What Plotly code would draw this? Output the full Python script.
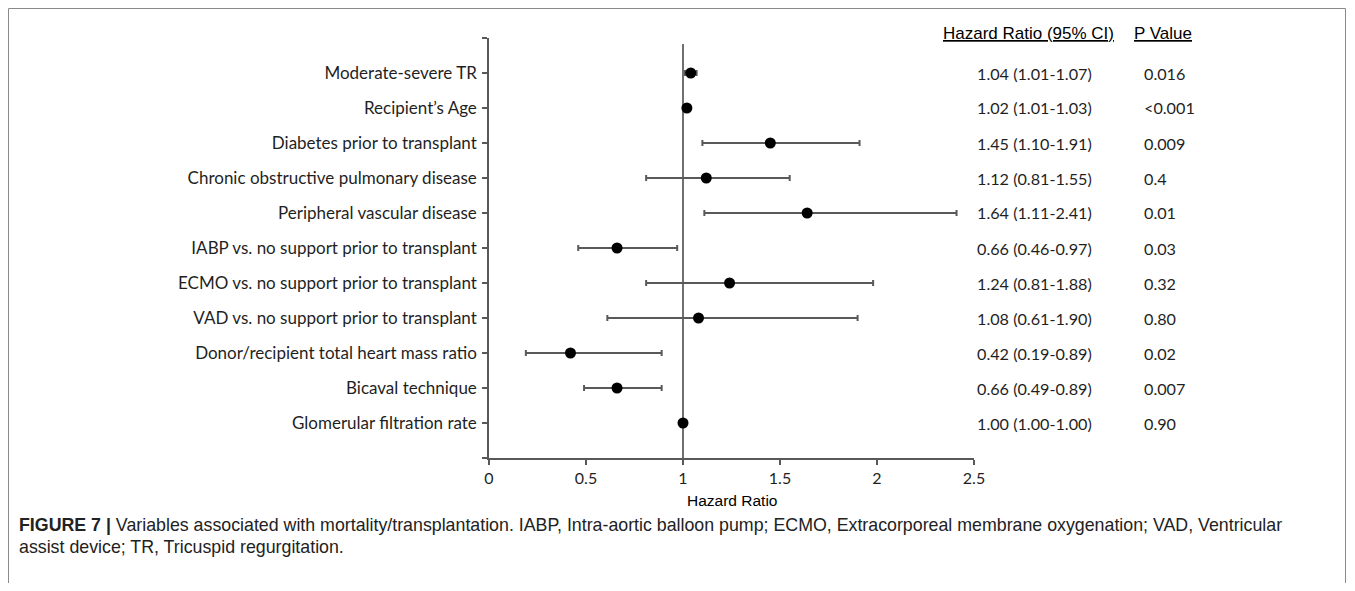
import plotly.graph_objects as go

variables = [
    "Moderate-severe TR",
    "Recipient’s Age",
    "Diabetes prior to transplant",
    "Chronic obstructive pulmonary disease",
    "Peripheral vascular disease",
    "IABP vs. no support prior to transplant",
    "ECMO vs. no support prior to transplant",
    "VAD vs. no support prior to transplant",
    "Donor/recipient total heart mass ratio",
    "Bicaval technique",
    "Glomerular filtration rate",
]
hazard_ratio = [1.04, 1.02, 1.45, 1.12, 1.64, 0.66, 1.24, 1.08, 0.42, 0.66, 1.00]
ci_low = [1.01, 1.01, 1.10, 0.81, 1.11, 0.46, 0.81, 0.61, 0.19, 0.49, 1.00]
ci_high = [1.07, 1.03, 1.91, 1.55, 2.41, 0.97, 1.98, 1.90, 0.89, 0.89, 1.00]
hr_text = [
    "1.04 (1.01-1.07)", "1.02 (1.01-1.03)", "1.45 (1.10-1.91)", "1.12 (0.81-1.55)",
    "1.64 (1.11-2.41)", "0.66 (0.46-0.97)", "1.24 (0.81-1.88)", "1.08 (0.61-1.90)",
    "0.42 (0.19-0.89)", "0.66 (0.49-0.89)", "1.00 (1.00-1.00)",
]
p_text = ["0.016", "<0.001", "0.009", "0.4", "0.01", "0.03", "0.32", "0.80", "0.02", "0.007", "0.90"]
x_ticks = [0, 0.5, 1, 1.5, 2, 2.5]

OFF = 8  # page body margin
W, H = 1355 - 2 * OFF, 591 - 2 * OFF
L, R = 489 - OFF, 974 - OFF
T, B = 38 - OFF, 458 - OFF
n = len(variables)
ypos = [n - i for i in range(n)]  # 11 .. 1


def paper_x(px):
    return (px - OFF - L) / (R - L)


def paper_y(py):
    return (B - (py - OFF)) / (B - T)


axis_col = "#595959"
text_col = "#1f1f1f"
label_font = "Lato, Carlito, Calibri, sans-serif"
arial = "Liberation Sans, Arial, sans-serif"

fig = go.Figure()
fig.add_trace(go.Scatter(
    x=hazard_ratio, y=ypos, mode="markers",
    marker=dict(color="black", size=11),
    error_x=dict(type="data", symmetric=False,
                 array=[h - m for h, m in zip(ci_high, hazard_ratio)],
                 arrayminus=[m - l for m, l in zip(hazard_ratio, ci_low)],
                 color=axis_col, thickness=2, width=3),
    showlegend=False, hoverinfo="skip", cliponaxis=False,
))

# reference line at HR = 1
fig.add_shape(type="line", xref="x", yref="y", x0=1, x1=1, y0=0, y1=11.83,
              line=dict(color="#404040", width=1.5), layer="below")

# outer frame
fig.add_shape(type="rect", xref="paper", yref="paper",
              x0=paper_x(8.5), x1=paper_x(OFF + W - 1.5), y0=paper_y(640), y1=paper_y(8.5),
              line=dict(color="#8a8a8a", width=1), fillcolor="rgba(0,0,0,0)")

ann = []
for y, h, p in zip(ypos, hr_text, p_text):
    yp = (y - 0) / 12.0
    ann.append(dict(x=paper_x(975), y=yp, xref="paper", yref="paper", text=h, showarrow=False,
                    xanchor="left", yanchor="middle",
                    font=dict(family=label_font, size=16.2, color=text_col)))
    ann.append(dict(x=paper_x(1142), y=yp, xref="paper", yref="paper", text=p, showarrow=False,
                    xanchor="left", yanchor="middle",
                    font=dict(family=label_font, size=16.2, color=text_col)))

ann.append(dict(x=paper_x(941), y=paper_y(33), xref="paper", yref="paper",
                text="<u>Hazard Ratio (95% CI)</u>", showarrow=False,
                xanchor="left", yanchor="middle",
                font=dict(family=arial, size=17, color="black")))
ann.append(dict(x=paper_x(1132), y=paper_y(33), xref="paper", yref="paper",
                text="<u>P Value</u>", showarrow=False,
                xanchor="left", yanchor="middle",
                font=dict(family=arial, size=17, color="black")))
ann.append(dict(x=paper_x(732), y=paper_y(500), xref="paper", yref="paper",
                text="Hazard Ratio", showarrow=False, xanchor="center", yanchor="middle",
                font=dict(family=arial, size=15.5, color="black")))
cap_font = dict(family=arial, size=17.8, color="#222")
ann.append(dict(x=paper_x(17), y=paper_y(525), xref="paper", yref="paper",
                text="<b>FIGURE 7 |</b> Variables associated with mortality/transplantation. IABP, Intra-aortic balloon pump; ECMO, Extracorporeal membrane oxygenation; VAD, Ventricular",
                showarrow=False, xanchor="left", yanchor="middle", font=cap_font))
ann.append(dict(x=paper_x(17), y=paper_y(547), xref="paper", yref="paper",
                text="assist device; TR, Tricuspid regurgitation.",
                showarrow=False, xanchor="left", yanchor="middle", font=cap_font))

fig.update_layout(
    width=W, height=H,
    margin=dict(l=L, r=W - R, t=T, b=H - B, autoexpand=False),
    plot_bgcolor="white", paper_bgcolor="white",
    annotations=ann,
    xaxis=dict(range=[0, 2.5], tickvals=x_ticks, ticktext=[f"{v:g}" for v in x_ticks],
               showgrid=False, zeroline=False, showline=True, linecolor=axis_col, linewidth=1.5,
               ticks="outside", ticklen=5, tickcolor=axis_col, tickwidth=1.5,
               tickfont=dict(family=label_font, size=16, color=text_col)),
    yaxis=dict(range=[0, 12], tickvals=list(range(0, 13)),
               ticktext=[""] + variables[::-1] + [""],
               showgrid=False, zeroline=False, showline=True, linecolor=axis_col, linewidth=1.5,
               ticks="outside", ticklen=5, tickcolor=axis_col, tickwidth=1.5,
               ticklabelstandoff=2,
               tickfont=dict(family=label_font, size=17, color=text_col)),
)

fig.write_html("out.html")
